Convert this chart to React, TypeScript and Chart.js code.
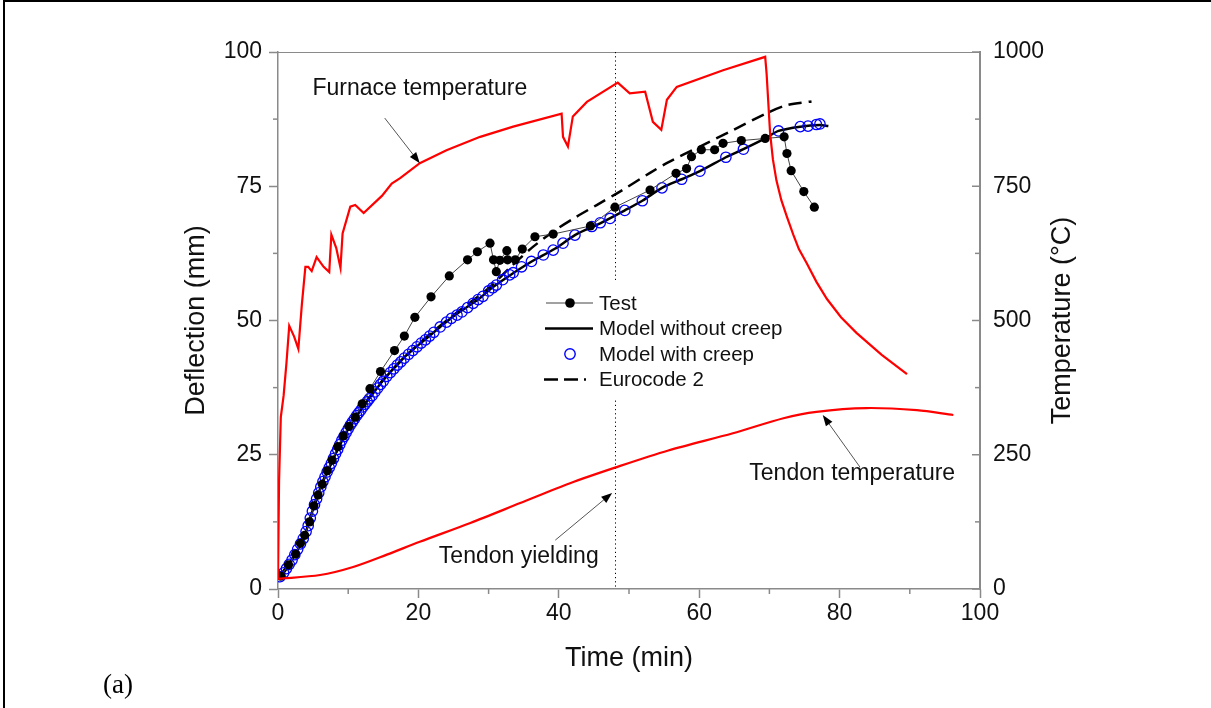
import React, { useEffect, useRef } from "react";
import { Chart, registerables } from "chart.js";

Chart.register(...registerables);

const FONT = "'Liberation Sans', Arial, Helvetica, sans-serif";

// ---------- data ----------
const furnaceTime = [0, 0.15, 0.4, 0.8, 1.2, 1.6, 2.3, 2.9, 3.4, 3.9, 4.3, 4.8, 5.5, 6.5, 7.3, 7.6, 8.3, 8.9, 9.2, 10.3, 11, 12.2, 14.8, 16.2, 17.4, 20.2, 24, 28.8, 33.5, 40.4, 40.6, 41.3, 42, 44, 48.4, 50.1, 52.3, 53.4, 54.6, 55.4, 56.8, 63.4, 69.4, 69.6, 70.1, 70.5, 71, 71.7, 72.5, 73.4, 74.2, 75.3, 76.7, 78.2, 80.2, 82.4, 86, 89.6];
const furnaceTemp = [20, 200, 320, 360, 420, 490, 470, 447, 530, 600, 600, 592, 618, 600, 590, 660, 635, 598, 662, 712, 715, 700, 732, 755, 765, 793, 817, 842, 861, 885, 842, 824, 880, 907, 943, 923, 926, 870, 855, 911, 935, 966, 991, 960, 849, 800, 761, 724, 693, 660, 633, 607, 572, 540, 506, 477, 436, 400];

const tendonTime = [0, 6, 10.7, 15.5, 20.2, 27.4, 34.5, 41.6, 48, 55.6, 64.8, 72, 76.7, 83.8, 91, 96.2];
const tendonTemp = [19, 26, 41, 64, 88, 123, 160, 197, 226, 258, 290, 318, 330, 337, 333, 324];

const testTime = [0.4, 1.5, 2.5, 3.2, 3.8, 4.5, 5.1, 5.7, 6.3, 7, 7.7, 8.5, 9.3, 10.1, 11, 12, 13.1, 14.6, 16.6, 18, 19.5, 21.8, 24.4, 27, 28.4, 30.2, 30.7, 31.1, 31.6, 32.6, 32.7, 33.8, 34.8, 36.6, 39.2, 44.5, 48, 53, 56.7, 58.2, 58.9, 60.3, 62.2, 63.4, 66, 69.4, 72.1, 72.5, 73.1, 74.9, 76.4];
const testDefl = [2.4, 4.5, 6.5, 8.5, 10, 12.5, 15.5, 17.5, 19.5, 22, 24, 26.5, 28.5, 30.3, 32, 34.5, 37.3, 40.5, 44.4, 47.1, 50.6, 54.4, 58.3, 61.3, 62.8, 64.4, 61.3, 59.1, 61.2, 63, 61.3, 61.3, 63.3, 65.6, 66.1, 67.6, 71.1, 74.3, 77.4, 78.3, 80.5, 81.8, 81.8, 83, 83.5, 83.9, 84.2, 81.1, 77.9, 74, 71.1];

const modelTime = [0, 0.6, 2, 3.7, 5.1, 6.3, 7.7, 9.1, 10.8, 12.9, 15.2, 18.1, 20.9, 23.1, 25.2, 28.5, 30.4, 32.8, 35.9, 39.5, 42.3, 45.9, 49.4, 51.9, 54.7, 57.5, 60.1, 63.8, 66.3, 69.4, 71.3, 74.4, 77.2, 78.4];
const modelDefl = [2, 2.6, 5.4, 9.7, 15.3, 19.7, 23.7, 27.7, 31.5, 35.3, 39.2, 43.3, 46.4, 48.8, 51, 53.9, 56, 58.2, 60.8, 63.4, 65.9, 68.1, 70.5, 72.3, 74.7, 76.3, 77.8, 80.4, 81.9, 83.9, 85.3, 86.1, 86.4, 86.2];

const creepTime = [0.3, 0.8, 1.2, 1.6, 2.0, 2.4, 2.8, 3.2, 3.6, 4.0, 4.3, 4.6, 4.9, 5.2, 5.5, 5.8, 6.1, 6.4, 6.7, 7.0, 7.3, 7.6, 7.9, 8.2, 8.5, 8.8, 9.1, 9.4, 9.7, 10.0, 10.3, 10.6, 10.9, 11.2, 11.5, 11.8, 12.1, 12.4, 12.7, 13.0, 13.4, 13.8, 14.2, 14.6, 15.0, 15.5, 16.0, 16.5, 17.0, 17.5, 18.0, 18.6, 19.2, 19.8, 20.4, 21.0, 21.6, 22.2, 23.1, 24.0, 24.7, 25.5, 26.2, 27.0, 27.8, 28.5, 29.2, 30.0, 30.6, 31.1, 32.0, 33.0, 33.5, 34.7, 36.1, 37.8, 39.2, 40.6, 42.3, 44.7, 45.9, 47.3, 49.4, 51.9, 54.7, 57.5, 60.1, 63.8, 66.3, 71.3, 74.4, 75.5, 76.7, 77.2];
const creepDefl = [2.3, 3.0, 3.8, 4.6, 5.4, 6.4, 7.4, 8.4, 9.4, 10.7, 11.8, 13.2, 14.5, 15.7, 16.8, 17.9, 19.0, 20.0, 20.9, 21.8, 22.6, 23.4, 24.3, 25.2, 26.0, 26.9, 27.7, 28.4, 29.1, 29.8, 30.5, 31.1, 31.7, 32.3, 32.8, 33.3, 33.9, 34.4, 34.9, 35.4, 36.0, 36.7, 37.4, 38.1, 38.7, 39.6, 40.3, 41.0, 41.7, 42.3, 43.0, 43.7, 44.4, 45.1, 45.8, 46.4, 47.1, 47.8, 48.8, 49.7, 50.4, 51.0, 51.6, 52.4, 53.2, 53.9, 54.5, 55.5, 56.1, 56.6, 57.6, 58.5, 58.9, 60.0, 61.0, 62.2, 63.1, 64.4, 65.9, 67.5, 68.2, 69.0, 70.5, 72.3, 74.7, 76.3, 77.8, 80.4, 81.9, 85.3, 86.1, 86.2, 86.5, 86.6];

const eurocodeTime = [0, 2, 4, 6, 8, 10, 12, 15, 20, 25, 30, 33, 36.4, 39.7, 42.5, 45.4, 48.7, 53, 55.5, 60.1, 64.9, 69.6, 72.5, 76];
const eurocodeDefl = [2, 5.6, 11, 18.8, 24.6, 29.8, 33.8, 39, 45.6, 51, 56, 59.8, 63.8, 67, 69.3, 71.5, 74, 77.5, 79.4, 82.4, 85.5, 88.6, 90.1, 90.8];

const xMinorTicks = [10, 30, 50, 70, 90];
const yMinorTicks = [12.5, 37.5, 62.5, 87.5];
const y2MinorTicks = [125, 375, 625, 875];

const yieldTime = 48;

const legendLabels = ["Test", "Model without creep", "Model with creep", "Eurocode 2"];

// annotations in data coordinates (time, deflection-axis units)
const annotations = [
  { text: "Furnace temperature", tx: 20.2, ty: 93.1, from: [15.2, 87.7], to: [20.2, 79.3] },
  { text: "Tendon yielding", tx: 34.3, ty: 6.0, from: [39.5, 9.1], to: [47.6, 17.9] },
  { text: "Tendon temperature", tx: 81.8, ty: 21.4, from: [82.9, 22.7], to: [77.6, 32.4] },
];

const zip = (a: number[], b: number[]) => a.map((v, i) => ({ x: v, y: b[i] }));

const AXIS_GRAY = "#8a8a8a";

function drawArrow(ctx: CanvasRenderingContext2D, x1: number, y1: number, x2: number, y2: number) {
  const ang = Math.atan2(y2 - y1, x2 - x1);
  const len = 11;
  const hw = 4;
  ctx.strokeStyle = "#555";
  ctx.lineWidth = 1;
  ctx.beginPath();
  ctx.moveTo(x1, y1);
  ctx.lineTo(x2 - Math.cos(ang) * len * 0.8, y2 - Math.sin(ang) * len * 0.8);
  ctx.stroke();
  ctx.fillStyle = "#000";
  ctx.beginPath();
  ctx.moveTo(x2, y2);
  ctx.lineTo(x2 - Math.cos(ang) * len - Math.sin(ang) * hw, y2 - Math.sin(ang) * len + Math.cos(ang) * hw);
  ctx.lineTo(x2 - Math.cos(ang) * len + Math.sin(ang) * hw, y2 - Math.sin(ang) * len - Math.cos(ang) * hw);
  ctx.closePath();
  ctx.fill();
}

const overlayPlugin = {
  id: "overlay",
  beforeDatasetsDraw(chart: any) {
    const { ctx, chartArea: a, scales } = chart;
    const sx = scales.x, sy = scales.y, sy2 = scales.y2;
    ctx.save();
    // top border of the frame
    ctx.strokeStyle = AXIS_GRAY;
    ctx.lineWidth = 1;
    ctx.beginPath();
    ctx.moveTo(a.left, a.top + 0.5);
    ctx.lineTo(a.right, a.top + 0.5);
    ctx.stroke();
    // minor ticks
    ctx.lineWidth = 1.5;
    xMinorTicks.forEach((v) => {
      const p = sx.getPixelForValue(v);
      ctx.beginPath();
      ctx.moveTo(p, a.bottom);
      ctx.lineTo(p, a.bottom + 5);
      ctx.stroke();
    });
    yMinorTicks.forEach((v) => {
      const p = sy.getPixelForValue(v);
      ctx.beginPath();
      ctx.moveTo(a.left, p);
      ctx.lineTo(a.left - 5, p);
      ctx.stroke();
    });
    // right axis ticks pointing inward
    sy2.ticks.forEach((t: any) => {
      const p = sy2.getPixelForValue(t.value);
      ctx.beginPath();
      ctx.moveTo(a.right, p);
      ctx.lineTo(a.right - 8, p);
      ctx.stroke();
    });
    y2MinorTicks.forEach((v) => {
      const p = sy2.getPixelForValue(v);
      ctx.beginPath();
      ctx.moveTo(a.right, p);
      ctx.lineTo(a.right - 5, p);
      ctx.stroke();
    });
    // dotted vertical line: tendon yielding
    const px = Math.round(sx.getPixelForValue(yieldTime)) + 0.5;
    ctx.strokeStyle = "#000";
    ctx.lineWidth = 1;
    ctx.setLineDash([1.2, 3]);
    ctx.beginPath();
    ctx.moveTo(px, a.top);
    ctx.lineTo(px, a.bottom);
    ctx.stroke();
    ctx.restore();
  },
  afterDatasetsDraw(chart: any) {
    const { ctx, chartArea: a, scales } = chart;
    const sx = scales.x, sy = scales.y;
    ctx.save();

    // legend
    const lx = a.left + 268;
    const ly = a.top + 251;
    const step = 25.5;
    ctx.fillStyle = "#fff";
    ctx.fillRect(lx - 6, ly - 20, 182, step * 3 + 40);
    ctx.font = `20.5px ${FONT}`;
    ctx.textAlign = "left";
    ctx.textBaseline = "middle";
    legendLabels.forEach((lab, i) => {
      const y = ly + i * step;
      const cx = lx + 24;
      if (i === 0) {
        ctx.strokeStyle = "#444";
        ctx.lineWidth = 1;
        ctx.beginPath();
        ctx.moveTo(lx, y);
        ctx.lineTo(lx + 47, y);
        ctx.stroke();
        ctx.fillStyle = "#000";
        ctx.beginPath();
        ctx.arc(cx, y, 4.8, 0, Math.PI * 2);
        ctx.fill();
      } else if (i === 1) {
        ctx.strokeStyle = "#000";
        ctx.lineWidth = 2.5;
        ctx.beginPath();
        ctx.moveTo(lx - 1, y);
        ctx.lineTo(lx + 47, y);
        ctx.stroke();
      } else if (i === 2) {
        ctx.strokeStyle = "#0000ff";
        ctx.lineWidth = 1.4;
        ctx.beginPath();
        ctx.arc(cx, y, 5.2, 0, Math.PI * 2);
        ctx.stroke();
      } else {
        ctx.strokeStyle = "#000";
        ctx.lineWidth = 2.5;
        ctx.setLineDash([14, 6]);
        ctx.beginPath();
        ctx.moveTo(lx - 2, y);
        ctx.lineTo(lx + 40, y);
        ctx.stroke();
        ctx.setLineDash([]);
      }
      ctx.fillStyle = "#111";
      ctx.fillText(lab, lx + 53, y + 1);
    });

    // annotations
    ctx.font = `23px ${FONT}`;
    ctx.textAlign = "center";
    ctx.textBaseline = "middle";
    annotations.forEach((an) => {
      ctx.fillStyle = "#111";
      ctx.fillText(an.text, sx.getPixelForValue(an.tx), sy.getPixelForValue(an.ty));
      drawArrow(
        ctx,
        sx.getPixelForValue(an.from[0]),
        sy.getPixelForValue(an.from[1]),
        sx.getPixelForValue(an.to[0]),
        sy.getPixelForValue(an.to[1])
      );
    });

    // axis titles
    ctx.fillStyle = "#111";
    ctx.font = `27px ${FONT}`;
    ctx.textAlign = "center";
    ctx.textBaseline = "middle";
    const midY = (a.top + a.bottom) / 2;
    ctx.fillText("Time (min)", (a.left + a.right) / 2, a.bottom + 70);
    ctx.save();
    ctx.translate(a.left - 81, midY);
    ctx.rotate(-Math.PI / 2);
    ctx.fillText("Deflection (mm)", 0, 0);
    ctx.restore();
    ctx.save();
    ctx.translate(a.right + 83, midY);
    ctx.rotate(-Math.PI / 2);
    ctx.fillText("Temperature (\u00B0C)", 0, 0);
    ctx.restore();

    ctx.restore();
  },
};

const plainLabel = (v: any) => String(v);

export default function App() {
  const canvasRef = useRef<HTMLCanvasElement | null>(null);

  useEffect(() => {
    if (!canvasRef.current) return;
    Chart.defaults.font.family = FONT;
    const tickFont = { size: 23, family: FONT };
    const chart = new Chart(canvasRef.current, {
      type: "line",
      data: {
        datasets: [
          {
            label: "Furnace temperature",
            data: zip(furnaceTime, furnaceTemp),
            yAxisID: "y2",
            borderColor: "#ff0000",
            borderWidth: 2.2,
            pointRadius: 0,
            tension: 0,
          },
          {
            label: "Tendon temperature",
            data: zip(tendonTime, tendonTemp),
            yAxisID: "y2",
            borderColor: "#ff0000",
            borderWidth: 2.2,
            pointRadius: 0,
            tension: 0.3,
          },
          {
            label: "Test",
            data: zip(testTime, testDefl),
            yAxisID: "y",
            borderColor: "#444",
            borderWidth: 1,
            pointRadius: 4.6,
            pointBackgroundColor: "#000",
            pointBorderColor: "#000",
            pointBorderWidth: 0,
            tension: 0,
          },
          {
            label: "Model with creep",
            data: zip(creepTime, creepDefl),
            yAxisID: "y",
            showLine: false,
            pointRadius: 5.2,
            pointBorderColor: "#0000ff",
            pointBackgroundColor: "rgba(0,0,0,0)",
            pointBorderWidth: 1.3,
          },
          {
            label: "Model without creep",
            data: zip(modelTime, modelDefl),
            yAxisID: "y",
            borderColor: "#000",
            borderWidth: 2.5,
            pointRadius: 0,
            tension: 0.3,
          },
          {
            label: "Eurocode 2",
            data: zip(eurocodeTime, eurocodeDefl),
            yAxisID: "y",
            borderColor: "#000",
            borderWidth: 2.5,
            borderDash: [13, 7],
            pointRadius: 0,
            tension: 0.3,
          },
        ],
      },
      options: {
        responsive: false,
        maintainAspectRatio: false,
        animation: false,
        devicePixelRatio: 1,
        layout: { padding: { top: 52, left: 0, right: 0, bottom: 0 } },
        plugins: {
          legend: { display: false },
          tooltip: { enabled: false },
          title: { display: false },
        },
        scales: {
          x: {
            type: "linear",
            position: "bottom",
            min: 0,
            max: 100,
            ticks: { stepSize: 20, font: tickFont, color: "#111", padding: 2, maxRotation: 0, callback: plainLabel },
            grid: { drawOnChartArea: false, drawTicks: true, tickLength: 9, tickColor: AXIS_GRAY, tickWidth: 1.5 },
            border: { display: true, color: AXIS_GRAY, width: 1.5 },
            afterFit: (s: any) => {
              s.height = 119;
            },
          },
          y: {
            type: "linear",
            position: "left",
            min: 0,
            max: 100,
            ticks: { stepSize: 25, font: tickFont, color: "#111", padding: 7, callback: plainLabel },
            grid: { drawOnChartArea: false, drawTicks: true, tickLength: 9, tickColor: AXIS_GRAY, tickWidth: 1.5 },
            border: { display: true, color: AXIS_GRAY, width: 1.5 },
            afterFit: (s: any) => {
              s.width = 278;
            },
          },
          y2: {
            type: "linear",
            position: "right",
            min: 0,
            max: 1000,
            ticks: { stepSize: 250, font: tickFont, color: "#111", padding: 13, callback: plainLabel },
            grid: { drawOnChartArea: false, drawTicks: false },
            border: { display: true, color: AXIS_GRAY, width: 2 },
            afterFit: (s: any) => {
              s.width = 231;
            },
          },
        },
      },
      plugins: [overlayPlugin],
    });
    return () => chart.destroy();
  }, []);

  return (
    <div style={{ position: "fixed", left: 0, top: 0, width: 1211, height: 708, background: "#fff", overflow: "hidden" }}>
      <canvas ref={canvasRef} width={1211} height={708} style={{ display: "block", width: 1211, height: 708 }} />
      <div
        style={{
          position: "absolute",
          left: 3,
          top: 0,
          width: 1220,
          height: 720,
          borderLeft: "2px solid #000",
          borderTop: "2px solid #000",
          pointerEvents: "none",
        }}
      />
      <span
        style={{
          position: "absolute",
          left: 103,
          top: 668,
          fontFamily: "'Liberation Serif', 'Times New Roman', serif",
          fontSize: 27,
          lineHeight: "32px",
          color: "#000",
        }}
      >
        (a)
      </span>
    </div>
  );
}
